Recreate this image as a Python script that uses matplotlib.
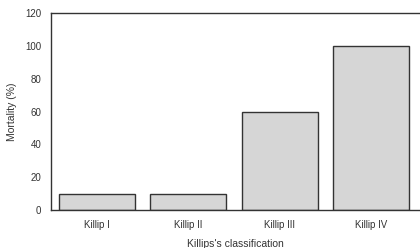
import matplotlib
matplotlib.use("Agg")
import matplotlib.pyplot as plt

categorias = ["Killip I", "Killip II", "Killip III", "Killip IV"]
mortalidade = [10, 10, 60, 100]

plt.rcParams["font.family"] = ["Liberation Sans", "DejaVu Sans"]

fig = plt.figure(figsize=(4.2, 2.48), dpi=100)
ax = fig.add_axes([51 / 420, 38 / 248, 369 / 420, 197 / 248])

ax.bar(range(len(categorias)), mortalidade, width=0.83,
       color="#d6d6d6", edgecolor="#333333", linewidth=1.0)

ax.set_xlim(-0.5, 3.53)
ax.set_ylim(0, 120)
ax.set_yticks([0, 20, 40, 60, 80, 100, 120])
ax.set_xticks(range(len(categorias)))
ax.set_xticklabels(categorias)
ax.tick_params(length=0, labelsize=7, pad=7, colors="#333333")
ax.tick_params(axis="x", pad=7)

for lado in ["left", "bottom", "top"]:
    ax.spines[lado].set_color("#333333")
    ax.spines[lado].set_linewidth(1.0)
ax.spines["right"].set_visible(False)

ax.set_xlabel("Killips's classification", fontsize=7.5, color="#333333", labelpad=7)
ax.set_ylabel("Mortality (%)", fontsize=7.5, color="#333333", labelpad=6)

fig.savefig("out.png", dpi=100)
